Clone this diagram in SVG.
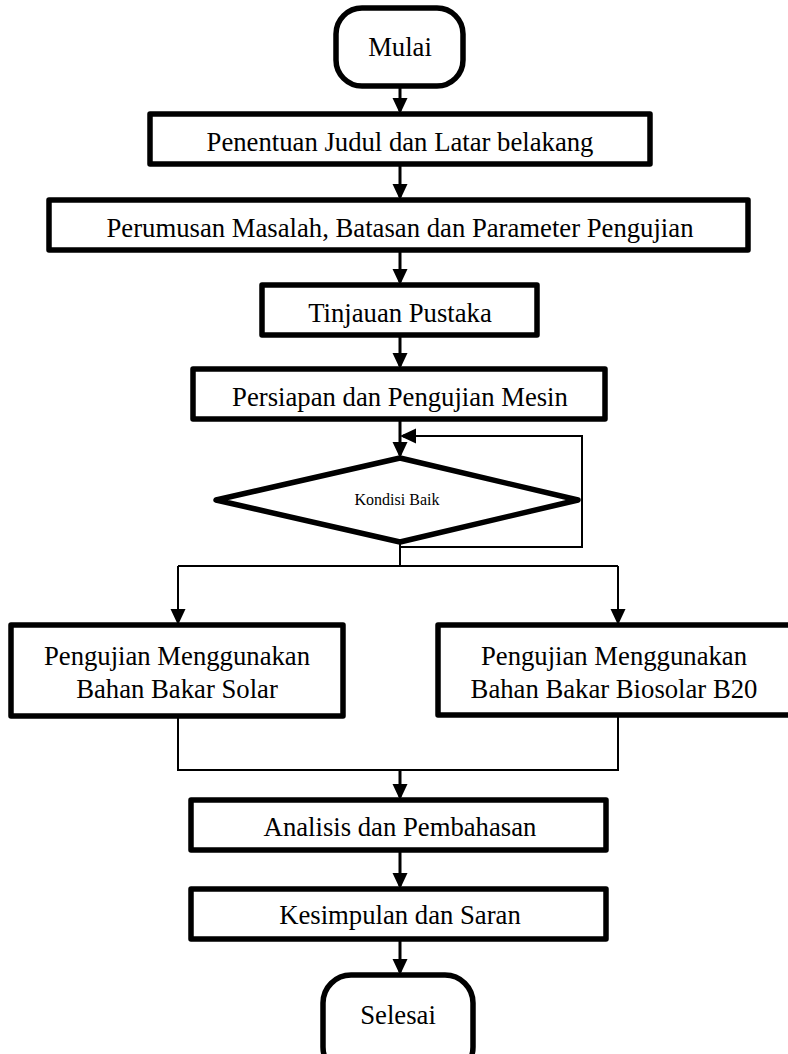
<svg xmlns="http://www.w3.org/2000/svg" width="788" height="1054" viewBox="0 0 788 1054">
<style>
.box{fill:#fff;stroke:#000;stroke-width:5.5;stroke-linejoin:round}
.t{font-family:"Liberation Serif","Times New Roman",serif;font-size:26.7px;fill:#000;text-anchor:middle}
.ts{font-family:"Liberation Serif","Times New Roman",serif;font-size:16px;fill:#000;text-anchor:middle}
.main{fill:none;stroke:#000;stroke-width:3}
.thin{fill:none;stroke:#000;stroke-width:2}
</style>
<defs>
<marker id="ah" markerUnits="userSpaceOnUse" markerWidth="16" markerHeight="16" viewBox="0 0 16 16" refX="13" refY="8" orient="auto">
<path d="M0,0.5 L16,8 L0,15.5 z" fill="#000"/>
</marker>
</defs>
<rect width="788" height="1054" fill="#fff"/>
<g id="connectors">
<line class="main" x1="400" y1="86" x2="400" y2="111" marker-end="url(#ah)"/>
<line class="main" x1="400" y1="164" x2="400" y2="197" marker-end="url(#ah)"/>
<line class="main" x1="400" y1="250" x2="400" y2="282" marker-end="url(#ah)"/>
<line class="main" x1="400" y1="335" x2="400" y2="366" marker-end="url(#ah)"/>
<line class="main" x1="400" y1="419" x2="400" y2="455" marker-end="url(#ah)"/>
<path class="thin" d="M400,547 H582 V436 H416"/>
<line class="main" x1="416" y1="436" x2="403" y2="436" marker-end="url(#ah)"/>
<path class="thin" d="M400,542 V566 M178,566 H618"/>
<line class="thin" x1="178" y1="566" x2="178" y2="622" marker-end="url(#ah)"/>
<line class="thin" x1="618" y1="566" x2="618" y2="622" marker-end="url(#ah)"/>
<path class="thin" d="M178,716 V770 H618 V716"/>
<line class="main" x1="400" y1="770" x2="400" y2="797" marker-end="url(#ah)"/>
<line class="main" x1="400" y1="850" x2="400" y2="886" marker-end="url(#ah)"/>
<line class="main" x1="400" y1="939" x2="400" y2="972" marker-end="url(#ah)"/>
</g>
<g id="mulai">
<rect class="box" x="336" y="8" width="127" height="78" rx="26"/>
<text class="t" x="400" y="56">Mulai</text>
</g>
<g id="penentuan">
<rect class="box" x="150" y="114" width="500" height="50"/>
<text class="t" x="400" y="151">Penentuan Judul dan Latar belakang</text>
</g>
<g id="perumusan">
<rect class="box" x="49" y="200" width="699" height="50"/>
<text class="t" x="400" y="237">Perumusan Masalah, Batasan dan Parameter Pengujian</text>
</g>
<g id="tinjauan">
<rect class="box" x="262" y="285" width="275" height="50"/>
<text class="t" x="400" y="322">Tinjauan Pustaka</text>
</g>
<g id="persiapan">
<rect class="box" x="193" y="369" width="412" height="50"/>
<text class="t" x="400" y="406">Persiapan dan Pengujian Mesin</text>
</g>
<g id="kondisi">
<polygon class="box" points="400,458 578,500 400,542 216,500"/>
<text class="ts" x="397" y="505">Kondisi Baik</text>
</g>
<g id="solar">
<rect class="box" x="11" y="625" width="332" height="91"/>
<text class="t" x="177" y="665">Pengujian Menggunakan</text>
<text class="t" x="177" y="698">Bahan Bakar Solar</text>
</g>
<g id="biosolar">
<rect class="box" x="438" y="625" width="360" height="90"/>
<text class="t" x="614" y="665">Pengujian Menggunakan</text>
<text class="t" x="614" y="698">Bahan Bakar Biosolar B20</text>
</g>
<g id="analisis">
<rect class="box" x="191" y="800" width="415" height="50"/>
<text class="t" x="400" y="836">Analisis dan Pembahasan</text>
</g>
<g id="kesimpulan">
<rect class="box" x="191" y="889" width="415" height="50"/>
<text class="t" x="400" y="924">Kesimpulan dan Saran</text>
</g>
<g id="selesai">
<rect class="box" x="323" y="975" width="150" height="100" rx="28"/>
<text class="t" x="398" y="1024">Selesai</text>
</g>
</svg>
